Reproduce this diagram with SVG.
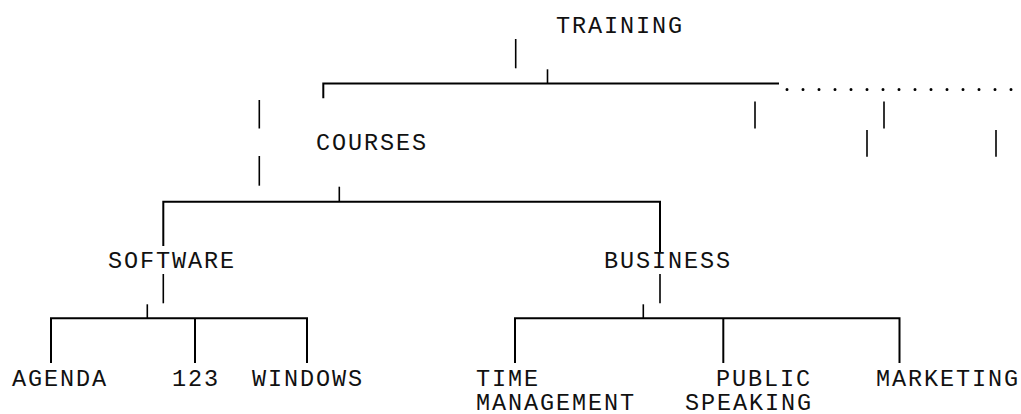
<svg xmlns="http://www.w3.org/2000/svg" width="1021" height="414" viewBox="0 0 1021 414">
<style>
  text { font-family: "Liberation Mono", "Courier New", monospace; font-size: 23.5px; letter-spacing: 1.9px; fill: #111; }
  .ln { fill: none; stroke: #000; stroke-width: 2; stroke-linecap: butt; }
  .bar { fill: none; stroke: #000; stroke-width: 1.6; }
  .dots { fill: none; stroke: #000; stroke-width: 3; stroke-linecap: round; stroke-dasharray: 0 16; }
</style>
<rect width="1021" height="414" fill="#fff"/>
<g id="connectors">
  <line class="bar" x1="515.7" y1="39" x2="515.7" y2="68.3"/>
  <line class="bar" x1="547.5" y1="69.3" x2="547.5" y2="83.5"/>
  <path class="ln" d="M323.3 98.3 V83.5 H779"/>
  <line class="dots" x1="787" y1="89.5" x2="1012" y2="89.5"/>
  <line class="bar" x1="259.3" y1="100" x2="259.3" y2="128.5"/>
  <line class="bar" x1="259.3" y1="156" x2="259.3" y2="185.7"/>
  <line class="bar" x1="755" y1="101.5" x2="755" y2="128.5"/>
  <line class="bar" x1="884" y1="101.5" x2="884" y2="128.5"/>
  <line class="bar" x1="867" y1="130" x2="867" y2="156.7"/>
  <line class="bar" x1="996" y1="130" x2="996" y2="156.7"/>
  <line class="bar" x1="339.3" y1="186.7" x2="339.3" y2="201.7"/>
  <path class="ln" d="M163.3 246 V201.7 H660 V252"/>
  <line class="bar" x1="163.3" y1="274" x2="163.3" y2="303.3"/>
  <line class="bar" x1="660" y1="274" x2="660" y2="303.3"/>
  <line class="bar" x1="147.3" y1="304.3" x2="147.3" y2="318.3"/>
  <line class="bar" x1="643.3" y1="304.3" x2="643.3" y2="318.3"/>
  <path class="ln" d="M51 363 V318.3 H307 V363"/>
  <line class="ln" x1="195" y1="318.3" x2="195" y2="363"/>
  <path class="ln" d="M515 363 V318.3 H899.5 V363"/>
  <line class="ln" x1="723.3" y1="318.3" x2="723.3" y2="363"/>
</g>
<g id="training"><text x="556" y="33.3">TRAINING</text></g>
<g id="courses"><text x="316" y="150">COURSES</text></g>
<g id="software"><text x="108" y="268">SOFTWARE</text></g>
<g id="business"><text x="604" y="268">BUSINESS</text></g>
<g id="agenda"><text x="12" y="386">AGENDA</text></g>
<g id="n123"><text x="172" y="386">123</text></g>
<g id="windows"><text x="252" y="386">WINDOWS</text></g>
<g id="time-management"><text x="476" y="386">TIME</text><text x="476" y="409.5">MANAGEMENT</text></g>
<g id="public-speaking"><text x="716" y="386">PUBLIC</text><text x="685" y="409.5">SPEAKING</text></g>
<g id="marketing"><text x="876" y="386">MARKETING</text></g>
</svg>
